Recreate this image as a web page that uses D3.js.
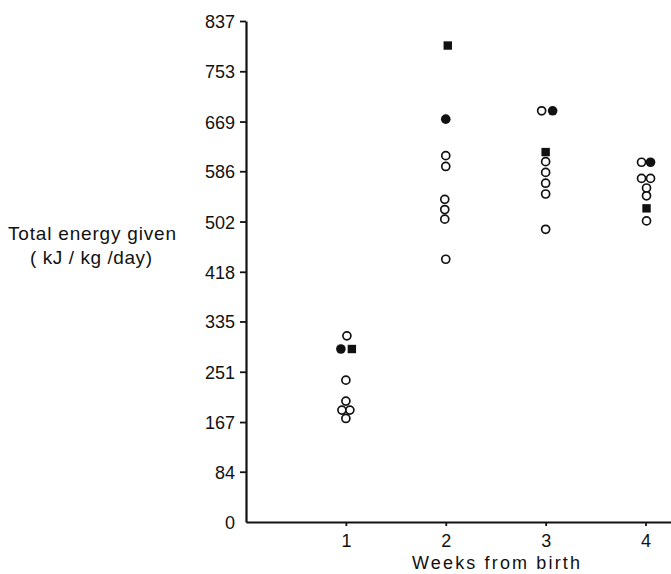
<!DOCTYPE html>
<html>
<head>
<meta charset="utf-8">
<script src="https://cdn.jsdelivr.net/npm/d3@7"></script>
<style>
  body { margin: 0; background: #fff; }
  svg { display: block; }
  text { font-family: "Liberation Sans", "DejaVu Sans", sans-serif; fill: #111; }
</style>
</head>
<body>
<svg id="chart" width="671" height="574"></svg>
<script>
// tick labels as printed (kcal converted to kJ)
const yTicks = [0, 84, 167, 251, 335, 418, 502, 586, 669, 753, 837];
const weeks = [1, 2, 3, 4];

// open circles: [week position, kJ/kg/day]
const openPoints = [
  [1.01, 311], [1.0, 237], [1.0, 202], [0.96, 187], [1.04, 187], [1.0, 173],
  [2.0, 612], [2.0, 594], [1.99, 539], [1.99, 522], [1.99, 506], [2.0, 439],
  [2.96, 687], [3.0, 602], [3.0, 584], [3.0, 566], [3.0, 548], [3.0, 489],
  [3.96, 601], [3.96, 574], [4.05, 574], [4.01, 558], [4.01, 545], [4.01, 503]
];
// filled circles
const filledCircles = [
  [0.95, 289], [2.0, 673], [3.07, 687], [4.05, 601]
];
// filled squares
const filledSquares = [
  [1.06, 289], [2.02, 796], [3.0, 618], [4.01, 524]
];

const svg = d3.select('#chart');

const x = d3.scaleLinear()
  .domain([0, 4.255])
  .range([246, 671]);

const y = d3.scaleLinear()
  .domain([0, 837])
  .range([522, 21]);

// Y axis
const yAxis = svg.append('g')
  .attr('transform', `translate(${x(0)},0)`)
  .attr('font-size', 18)
  .call(d3.axisLeft(y)
    .tickValues(yTicks)
    .tickFormat(d3.format('d'))
    .tickSize(6)
    .tickPadding(5)
    .tickSizeOuter(0));
yAxis.attr('font-size', 18);
yAxis.select('.domain').attr('stroke-width', 2.2).attr('stroke', '#111');
yAxis.selectAll('.tick line').attr('stroke-width', 1.8).attr('stroke', '#111');
yAxis.selectAll('.tick text').attr('dy', '0.36em');
yAxis.selectAll('.tick').filter(d => d === 0).select('line').remove();

// X axis
const xAxis = svg.append('g')
  .attr('transform', `translate(0,${y(0)})`)
  .call(d3.axisBottom(x)
    .tickValues(weeks)
    .tickFormat(d3.format('d'))
    .tickSize(4)
    .tickPadding(8)
    .tickSizeOuter(0));
xAxis.attr('font-size', 18);
xAxis.select('.domain').attr('stroke-width', 2.2).attr('stroke', '#111');
xAxis.selectAll('.tick line').attr('stroke-width', 1.8).attr('stroke', '#111');

// axis titles
svg.append('text')
  .attr('x', 496)
  .attr('y', 569)
  .attr('text-anchor', 'middle')
  .attr('textLength', 168)
  .attr('lengthAdjust', 'spacing')
  .style('font-size', '18px')
  .text('Weeks from birth');

svg.append('text')
  .attr('x', 92)
  .attr('y', 240)
  .attr('text-anchor', 'middle')
  .attr('textLength', 168)
  .attr('lengthAdjust', 'spacing')
  .style('font-size', '19px')
  .text('Total energy given');

svg.append('text')
  .attr('x', 91)
  .attr('y', 264)
  .attr('text-anchor', 'middle')
  .attr('textLength', 122)
  .attr('lengthAdjust', 'spacing')
  .style('font-size', '19px')
  .text('( kJ / kg /day)');

// markers
svg.append('g').selectAll('circle')
  .data(openPoints)
  .join('circle')
  .attr('cx', d => x(d[0]))
  .attr('cy', d => y(d[1]))
  .attr('r', 4)
  .attr('fill', '#fff')
  .attr('stroke', '#111')
  .attr('stroke-width', 1.7);

svg.append('g').selectAll('circle')
  .data(filledCircles)
  .join('circle')
  .attr('cx', d => x(d[0]))
  .attr('cy', d => y(d[1]))
  .attr('r', 4.8)
  .attr('fill', '#111');

svg.append('g').selectAll('rect')
  .data(filledSquares)
  .join('rect')
  .attr('x', d => x(d[0]) - 4.2)
  .attr('y', d => y(d[1]) - 4.2)
  .attr('width', 8.4)
  .attr('height', 8.4)
  .attr('fill', '#111');
</script>
</body>
</html>
